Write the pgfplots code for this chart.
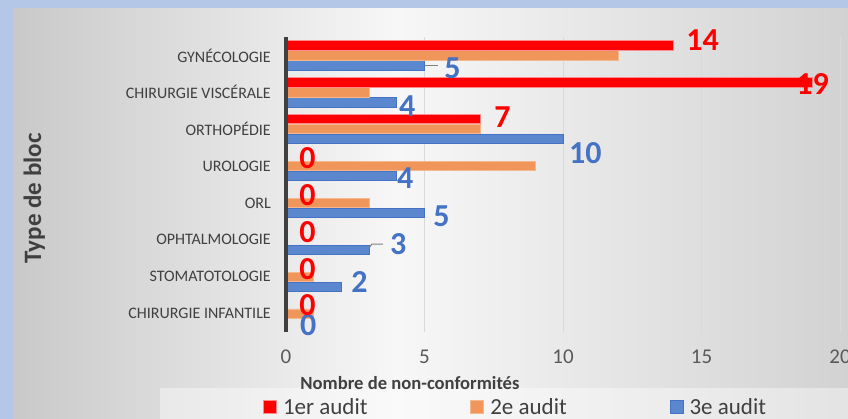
\documentclass[border=0pt]{standalone}
\usepackage{pgfplots}
\pgfplotsset{compat=1.18}
\usepackage{pgfplotstable}
\usepackage{fontspec}
\setmainfont{Carlito}
\definecolor{frame}{HTML}{B4C7E7}
\definecolor{txt}{HTML}{404040}
\definecolor{tickc}{HTML}{595959}
\definecolor{gridc}{HTML}{D9D9D9}
\definecolor{cred}{HTML}{FF0000}
\definecolor{credE}{HTML}{FF8C8C}
\definecolor{corange}{HTML}{F0965A}
\definecolor{corangeE}{HTML}{F5B88E}
\definecolor{cblue}{HTML}{5B87CE}
\definecolor{cblueE}{HTML}{4472C4}
\definecolor{lblue}{HTML}{4472C4}
\definecolor{bgL}{HTML}{C9C9C9}
\definecolor{bgR}{HTML}{D2D2D2}
\definecolor{bgM}{HTML}{F7F7F7}
\pgfdeclarehorizontalshading{bgshade}{100bp}{color(0bp)=(bgL); color(25bp)=(bgL); color(48bp)=(bgM); color(75bp)=(bgR); color(100bp)=(bgR)}
\pgfplotsset{sqlegend/.style={legend image code/.code={\draw[##1] (0pt,-6.5pt) rectangle (13pt,6.5pt);}}}

\pgfplotstableread{
c v dx dy
7 14 12.2 5
6 19 -16.3 -1.3
5 7 14 2
4 0 13 -2
3 0 13 -2
2 0 13 -2
1 0 13 -2
0 0 13 -2
}\redtab
\pgfplotstableread{
c v
7 12
6 3
5 7
4 9
3 3
2 0
1 1
0 1
}\orangetab
\pgfplotstableread{
c v dx dy
7 5 19.5 -2.5
6 4 2 -3.7
5 10 5.7 -13.6
4 4 0 -1.7
3 5 8.5 -3.6
2 3 20.6 5.3
1 2 9.6 5
0 0 13.7 -1.3
}\bluetab

\begin{document}
\begin{tikzpicture}[x=1pt,y=1pt]
\useasboundingbox (0,0) rectangle (848,419);
\fill[frame] (0,0) rectangle (848,419);
\shade[shading=bgshade] (13,0) rectangle (848,410);
\fill[white, opacity=0.4] (160,0) rectangle (848,31);
\begin{axis}[
  at={(286pt,87pt)}, anchor=south west,
  scale only axis, width=554pt, height=295pt,
  xmin=0, xmax=20, ymin=-0.5, ymax=7.5,
  xbar=0.7pt, bar width=9.3pt,
  axis x line*=bottom, axis y line*=left,
  x axis line style={draw=none},
  y axis line style={draw=txt, line width=4pt, -},
  major tick length=0pt,
  xtick={0,5,10,15,20},
  ytick={0,...,7},
  yticklabels={CHIRURGIE INFANTILE, STOMATOTOLOGIE, OPHTALMOLOGIE, ORL, UROLOGIE, ORTHOPÉDIE, CHIRURGIE VISCÉRALE, GYNÉCOLOGIE},
  xmajorgrids, ymajorgrids=false,
  major grid style={draw=gridc, line width=1pt},
  /pgf/number format/assume math mode=true,
  xticklabel style={font=\fontsize{21}{25}\selectfont, text=tickc, anchor=base, inner sep=0pt, yshift=-31.6pt},
  yticklabel style={font=\fontsize{16}{19}\selectfont, text=txt, anchor=east, inner sep=0pt, xshift=-15pt},
  xlabel={Nombre de non-conformités},
  xlabel style={font=\bfseries\fontsize{18.6}{22}\selectfont, text=txt, at={(axis description cs:0.2238,-0.1966)}, anchor=base, inner sep=0pt},
  ylabel={Type de bloc},
  ylabel style={font=\bfseries\fontsize{25}{29}\selectfont, text=txt, at={(axis description cs:-0.4422,0.4525)}, anchor=base, inner sep=0pt},
  legend columns=3, reverse legend,
  legend style={at={(axis description cs:-0.0415,-0.2542)}, anchor=west, draw=none, fill=none, inner sep=0pt, font=\fontsize{23}{27}\selectfont, text=txt, nodes={inner sep=0pt}, column sep=6pt, /tikz/every even column/.append style={column sep=103pt}},
  clip=false,
]
\addplot[fill=cblue, draw=cblueE, line width=0.8pt, sqlegend,
  point meta=x, nodes near coords,
  visualization depends on={\thisrow{dx} \as \dx},
  visualization depends on={\thisrow{dy} \as \dy},
  every node near coord/.append style={anchor=west, inner sep=0pt, xshift=\dx, yshift=\dy, font=\bfseries\fontsize{32}{36}\selectfont, text=lblue}]
  table[x=v, y=c] {\bluetab};
\addplot[fill=corange, draw=corangeE, line width=0.8pt, sqlegend]
  table[x=v, y=c] {\orangetab};
\addplot[fill=cred, draw=credE, line width=0.8pt, sqlegend,
  point meta=x, nodes near coords,
  visualization depends on={\thisrow{dx} \as \dx},
  visualization depends on={\thisrow{dy} \as \dy},
  every node near coord/.append style={anchor=west, inner sep=0pt, xshift=\dx, yshift=\dy, font=\bfseries\fontsize{32}{36}\selectfont, text=cred}]
  table[x=v, y=c] {\redtab};
\legend{3e audit, 2e audit, 1er audit}
\draw[color=gray, line width=1pt] (axis cs:5,6.74) -- (axis cs:5.49,6.74);
\draw[color=gray, line width=1pt] (axis cs:3,1.778) -- (axis cs:3.1,1.886) -- (axis cs:3.5,1.886);
\draw[color=txt, line width=4pt] (axis cs:0,-0.5) -- (axis cs:0,7.5);
\end{axis}
\end{tikzpicture}
\end{document}
